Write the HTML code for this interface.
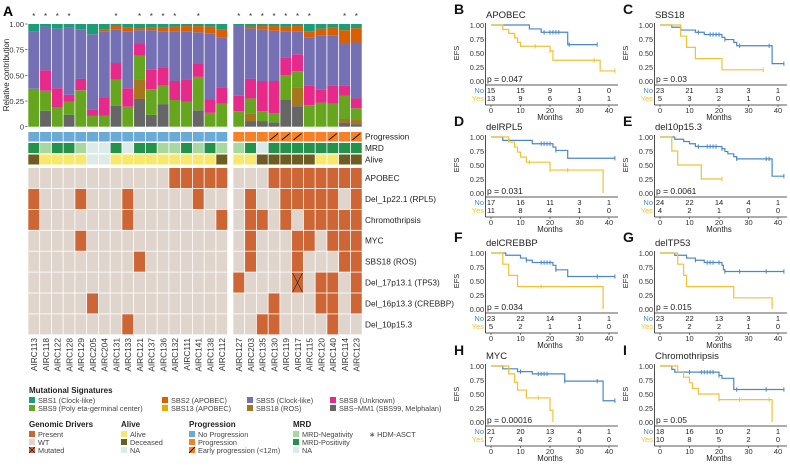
<!DOCTYPE html>
<html><head><meta charset="utf-8"><style>
html,body{margin:0;padding:0;background:#fff;}
svg{display:block;font-family:"Liberation Sans",sans-serif;}
</style></head><body>
<svg id="fig" width="790" height="469" viewBox="0 0 790 469" xmlns="http://www.w3.org/2000/svg"></svg>
<script>
// ---------- Panel A data ----------
const samplesL = ["AIRC113","AIRC118","AIRC122","AIRC128","AIRC129","AIRC205","AIRC204","AIRC131","AIRC133","AIRC121","AIRC137","AIRC136","AIRC132","AIRC111","AIRC141","AIRC138","AIRC112"];
const samplesR = ["AIRC127","AIRC203","AIRC135","AIRC130","AIRC119","AIRC117","AIRC115","AIRC120","AIRC140","AIRC114","AIRC123"];
const sigNames = ["SBS-MM1","SBS18","SBS9","SBS8","SBS5","SBS2","SBS1"];
const sigColors = ["#666666","#a6761d","#66a61e","#e7298a","#7570b3","#d95f02","#1b9e77"];
// cumulative tops (bottom to top) per sample: MM1, SBS18, SBS9, SBS8, SBS5, SBS2 ; SBS1 fills to 1
const cumL = [
 [0,0,.37,.37,.925,.925],[.155,.155,.35,.55,.975,.975],[0,0,.185,.375,.955,.955],[.115,.115,.245,.31,.965,.965],
 [0,0,.355,.465,.95,.95],[0,0,.105,.17,.9,.9],[0,0,.105,.285,.93,.95],[.205,.205,.46,.62,.95,.985],
 [0,0,.195,.375,.93,.965],[.27,.455,.69,.81,.94,.96],[.115,.115,.365,.56,.94,.965],[.22,.22,.4,.58,.925,.965],
 [0,0,.26,.445,.93,.975],[0,0,.245,.455,.93,.98],[.16,.16,.485,.615,.92,.98],[0,0,.135,.265,.91,.975],[0,0,.225,.385,.865,.945]];
const cumR = [
 [0,0,.15,.3,.985,.985],[.055,.13,.275,.465,.955,.975],[.055,.055,.15,.445,.95,.98],[.04,.04,.13,.445,.935,.98],
 [.26,.26,.5,.675,.925,.975],[.2,.385,.54,.705,.93,.98],[0,0,.21,.4,.87,.93],[0,0,.235,.365,.885,.955],
 [0,0,.225,.4,.885,.965],[.04,.075,.3,.4,.805,.94],[.025,.065,.18,.275,.82,.96]];
const starL = [1,1,1,1,0,0,0,1,0,1,1,1,1,0,1,0,0];
const starR = [1,1,1,1,1,1,1,0,0,1,1];
const progR = [1,1,1,2,2,2,1,1,2,1,2]; // 1 progression, 2 early
const mrdL = [2,1,2,2,1,0,0,2,0,2,2,1,1,2,1,2,1]; // 2 pos,1 neg,0 NA
const mrdR = [1,2,0,2,2,2,2,2,2,2,2];
const aliveL = [2,1,1,1,1,0,0,1,1,1,1,1,1,1,1,1,2]; // 1 alive 2 deceased 0 NA
const aliveR = [1,1,2,2,2,2,2,1,1,2,2];
const drivers = ["APOBEC","Del_1p22.1 (RPL5)","Chromothripsis","MYC","SBS18 (ROS)","Del_17p13.1 (TP53)","Del_16p13.3 (CREBBP)","Del_10p15.3"];
const drvL = [[13,14,15,16,17],[1,5,9,15],[1,9,17],[5],[10],[],[6],[9]];
const drvR = [[4,5,6,7,8,9,10,11],[2,5,6,7,8,9,11],[2,3,5,7,8,9,10,11],[2,6,7,9,10,11],[2,6,10,11],[1,6,8,9,11],[4,8,9,11],[3,4,9]];
const mutR = [[5,6]]; // row, col
const yTicks = ["0","0.25","0.50","0.75","1.00"];

// ---------- KM data ----------
const kmTitles = ["APOBEC","SBS18","delRPL5","del10p15.3","delCREBBP","delTP53","MYC","Chromothripsis"];
const kmLetters = ["B","C","D","E","F","G","H","I"];
const kmPvals = ["p = 0.047","p = 0.03","p = 0.031","p = 0.0061","p = 0.034","p = 0.015","p = 0.00016","p = 0.05"];
const noT = [[0,13,17,26],[0,4,7,12,15,21,22,25,26,38],[0,4,14,21,22,26],[0,5,8,10,12,21,22,23,25,26,38],[0,5,10,12,14,21,22,26],[0,5,9,12,15,21,21.5,22],[0,4,9,14,25,38],[0,4,5,20,21,25]];
const noS = [[1,.93,.87,.65],[1,.96,.91,.87,.83,.78,.74,.69,.63,.31],[1,.94,.88,.82,.76,.62],[1,.96,.92,.88,.83,.79,.74,.70,.65,.61,.30],[1,.96,.91,.87,.83,.78,.70,.58],[1,.96,.91,.87,.83,.78,.70,.67],[1,.95,.90,.86,.73,.38],[1,.94,.89,.83,.78,.58]];
const noEnd = [36,42,42,42,42,42,42,42];
const yesT = [[0,4,6,8,9,10,20,21,37],[0,7,9,12,21],[0,6,8,9,10,12,20,38],[0,4,6,14],[0,4,6,9,38],[0,6,8,9,25,38],[0,6,8,9,12,20,21],[0,6,8,10,11,13,20,38]];
const yesS = [[1,.92,.85,.77,.69,.62,.54,.37,.18],[1,.8,.6,.4,.2],[1,.91,.82,.73,.64,.55,.41,0],[1,.75,.5,.25],[1,.8,.6,.4,0],[1,.8,.6,.4,.2,0],[1,.86,.71,.57,.43,.21,0],[1,.9,.8,.7,.6,.5,.4,0]];
const yesEnd = [42,35,38,21,38,38,21,38];
const noCens = [[18,20,21,22,23,26.5,36],[13,17,18,19,20,22,27,37,42],[17,18,19,20,22,42],[13,16,17,18,19,21,26,36,37,42],[12,17,18,19,20,22,36,42],[12,16,17,18,20,22,27,36,42],[10,16,17,18,19,25,36,42],[10,14,15,16,17,18,20,26,36,42]];
const yesCens = [[15,20,35,42],[35],[13,20,26],[21],[17],[],[16],[20,27,37]];
const riskNo = [[15,15,9,1,0],[23,21,13,3,1],[17,16,11,3,1],[24,22,14,4,1],[23,22,14,3,1],[23,22,13,3,1],[21,20,13,4,1],[18,16,10,2,1]];
const riskYes = [[13,9,6,3,1],[5,3,2,1,0],[11,8,4,1,0],[4,2,1,0,0],[5,2,1,1,0],[5,2,2,1,0],[7,4,2,0,0],[10,8,5,2,0]];
const monthTicks = [0,10,20,30,40];
const efsTicks = ["0.00","0.25","0.50","0.75","1.00"];

const NS = "http://www.w3.org/2000/svg";
const svg = document.getElementById("fig");
function mk(tag, attrs, parent, text){
  const e = document.createElementNS(NS, tag);
  for (const k in attrs) e.setAttribute(k, attrs[k]);
  if (text !== undefined) e.textContent = text;
  (parent || svg).appendChild(e);
  return e;
}

// ---------- Panel A ----------
const gA = mk("g", {});


let t = mk("text", {x:3, y:16, "font-size":14, "font-weight":"bold"}, gA, "A");



const colW = 11.75;
function colX(group, i){ return group === 0 ? 28.3 + i*colW : 233.3 + i*colW; }
const yTop = 24, yBot = 126.7;
function yS(v){ return yBot - v*(yBot-yTop); }

// y axis
yTicks.forEach((lab,i)=>{
  const v = i*0.25;
  const tx = mk("text", {x:24, y:yS(v)+3, "font-size":7.5, "text-anchor":"end", fill:"#333"}, gA, lab);
  
  
  mk("line", {x1:25, x2:27.5, y1:yS(v), y2:yS(v), stroke:"#333", "stroke-width":0.6}, gA);
});
t = mk("text", {x:9, y:75, "font-size":8, "text-anchor":"middle", fill:"#222", transform:"rotate(-90 9 75)"}, gA, "Relative contribution");



const groups = [[samplesL,cumL,starL,null,mrdL,aliveL,drvL],[samplesR,cumR,starR,progR,mrdR,aliveR,drvR]];
const hmTop = 168, rowH = 20.9;
groups.forEach((G,g)=>{
  const [samples,cum,star,prog,mrd,alive,drv] = G;
  samples.forEach((s,i)=>{
    const x = colX(g,i);
    // stacked bar
    let prev = 0;
    const c = cum[i].concat([1]);
    c.forEach((v,k)=>{
      if (v - prev > 0.0001){
        const r = mk("rect", {x:x, y:yS(v), width:colW-0.8, height:yS(prev)-yS(v), fill:sigColors[k]}, gA);
        
        
      }
      prev = v;
    });
    if (star[i]){
      const st = mk("text", {x:x+colW/2-0.4, y:19, "font-size":8, "text-anchor":"middle", fill:"#333"}, gA, "*");
      
      
    }
    // progression
    const p = prog ? prog[i] : 0;
    const pr = mk("rect", {x:x, y:132, width:colW-0.8, height:9.5, fill: p ? "#f58025" : "#6aaad6"}, gA);
    
    
    if (p === 2){
      mk("line", {x1:x+1.5, y1:140, x2:x+colW-2.3, y2:133.5, stroke:"#111", "stroke-width":0.9}, gA);
    }
    const mr = mk("rect", {x:x, y:143, width:colW-0.8, height:10, fill: ["#dcebe9","#a7d8a0","#23924a"][mrd[i]]}, gA);
    
    
    const al = mk("rect", {x:x, y:154.5, width:colW-0.8, height:10, fill: ["#dcebe9","#f7e86c","#6e5c22"][alive[i]]}, gA);
    
    
    drivers.forEach((d,r)=>{
      const on = drv[r].indexOf(i+1) >= 0;
      const hc = mk("rect", {x:x, y:hmTop + r*rowH, width:colW-0.8, height:rowH-0.8, fill: on ? "#cd6634" : "#e0d5cd"}, gA);
      
      
      if (g===1 && mutR.some(m=>m[0]===r && m[1]===i+1)){
        mk("line", {x1:x+0.5,y1:hmTop+r*rowH+0.5,x2:x+colW-1.3,y2:hmTop+(r+1)*rowH-1.3,stroke:"#222","stroke-width":0.6}, gA);
        mk("line", {x1:x+colW-1.3,y1:hmTop+r*rowH+0.5,x2:x+0.5,y2:hmTop+(r+1)*rowH-1.3,stroke:"#222","stroke-width":0.6}, gA);
      }
    });
    const lx = x + colW/2 + 3;
    const sl = mk("text", {x:lx, y:338, "font-size":8.3, "text-anchor":"end", fill:"#333", transform:`rotate(-90 ${lx} 338)`}, gA, s);
    
    
  });
});
[["Progression",139.5],["MRD",151],["Alive",162.5]].forEach(([l,y])=>{
  const tx = mk("text", {x:365, y:y, "font-size":8.3, fill:"#222"}, gA, l);
  
  
});
drivers.forEach((d,r)=>{
  const tx = mk("text", {x:365, y:hmTop + r*rowH + rowH/2 + 2.5, "font-size":8.3, fill:"#222"}, gA, d);
  
  
});

// legend
const gL = mk("g", {}, gA);


function legTitle(x,y,s){ const e = mk("text",{x:x,y:y,"font-size":8,"font-weight":"bold",fill:"#222"},gL,s);
    }
function legEntry(x,y,col,s,extra){
  mk("rect",{x:x,y:y-6,width:6,height:6,fill:col},gL);
  if (extra==="x"){ mk("path",{d:`M${x} ${y-6}L${x+6} ${y}M${x+6} ${y-6}L${x} ${y}`,stroke:"#222","stroke-width":0.7},gL); }
  if (extra==="/"){ mk("line",{x1:x,y1:y,x2:x+6,y2:y-6,stroke:"#111","stroke-width":0.9},gL); }
  const e = mk("text",{x:x+9,y:y,"font-size":7.3,fill:"#444"},gL,s);
   
}
legTitle(29,393,"Mutational Signatures");
legEntry(29,403,"#1b9e77","SBS1 (Clock-like)");
legEntry(29,411,"#66a61e","SBS9 (Poly eta-germinal center)");
legEntry(162,403,"#d95f02","SBS2 (APOBEC)");
legEntry(162,411,"#e6ab02","SBS13 (APOBEC)");
legEntry(247,403,"#7570b3","SBS5 (Clock-like)");
legEntry(247,411,"#a6761d","SBS18 (ROS)");
legEntry(330,403,"#e7298a","SBS8 (Unknown)");
legEntry(330,411,"#666666","SBS\u2212MM1 (SBS99, Melphalan)");
legTitle(29,427,"Genomic Drivers");
legEntry(29,437,"#cd6634","Present");
legEntry(29,445,"#e0d5cd","WT");
legEntry(29,453,"#cd6634","Mutated","x");
legTitle(121,427,"Alive");
legEntry(121,437,"#f7e86c","Alive");
legEntry(121,445,"#6e5c22","Deceased");
legEntry(121,453,"#dcebe9","NA");
legTitle(189,427,"Progression");
legEntry(189,437,"#6aaad6","No Progression");
legEntry(189,445,"#f58025","Progression");
legEntry(189,453,"#f58025","Early progression (<12m)","/");
legTitle(293,427,"MRD");
legEntry(293,437,"#a7d8a0","MRD-Negativity");
legEntry(293,445,"#23924a","MRD-Positivity");
legEntry(293,453,"#dcebe9","NA");
t = mk("text",{x:369,y:437,"font-size":7.3,fill:"#444"},gL,"\u2217 HDM-ASCT");
 

// ---------- KM panels ----------
const panelPos = [[440,25],[609,25],[440,137],[609,137],[440,253],[609,253],[440,366],[609,366]];
const BLUE = "#4a88c9", YEL = "#f1c232";
kmTitles.forEach((title,p)=>{
  const [px, oy] = panelPos[p];
  const g = mk("g", {});
  
  
  const x0 = px + 51, pxPerM = 118/40, H = 56;
  const X = m => x0 + m*pxPerM;
  const Y = v => oy + H - v*H;
  let e = mk("text",{x:px+14,y:oy-11,"font-size":14,"font-weight":"bold",fill:"#111"},g,kmLetters[p]);
   
  e = mk("text",{x:px+46,y:oy-7,"font-size":9.5,fill:"#222"},g,title);
   
  // axes
  const axX = px + 45.5;
  mk("line",{x1:axX,y1:oy-2,x2:axX,y2:oy+80,stroke:"#222","stroke-width":0.8},g);
  mk("line",{x1:axX,y1:oy+60,x2:X(42)+3,y2:oy+60,stroke:"#222","stroke-width":0.8},g);
  mk("line",{x1:axX,y1:oy+80,x2:X(42)+3,y2:oy+80,stroke:"#222","stroke-width":0.8},g);
  efsTicks.forEach((lab,i)=>{
    const v = i*0.25;
    e = mk("text",{x:axX-1.5,y:Y(v)+3,"font-size":7.3,"text-anchor":"end",fill:"#333"},g,lab);
     
  });
  e = mk("text",{x:px+19,y:oy+28,"font-size":7.5,"text-anchor":"middle",fill:"#222",transform:`rotate(-90 ${px+19} ${oy+28})`},g,"EFS");
   
  // curves
  function curve(T,S,end,col,cens,name){
    let d = `M${X(T[0])} ${Y(S[0])}`;
    for (let i=1;i<T.length;i++){ d += `H${X(T[i])}V${Y(S[i])}`; }
    d += `H${X(end)}`;
    const c = mk("path",{d:d,fill:"none",stroke:col,"stroke-width":1.2},g);
    
    
    cens.forEach(ct=>{
      let s = S[0];
      for (let i=0;i<T.length;i++) if (T[i] <= ct) s = S[i];
      mk("line",{x1:X(ct),x2:X(ct),y1:Y(s)-2.2,y2:Y(s)+2.2,stroke:col,"stroke-width":1},g);
    });
  }
  curve(noT[p],noS[p],noEnd[p],BLUE,noCens[p],'curve-no');
  curve(yesT[p],yesS[p],yesEnd[p],YEL,yesCens[p],'curve-yes');
  e = mk("text",{x:X(0)-4,y:oy+57,"font-size":8.5,fill:"#222"},g,kmPvals[p]);
   
  // risk table
  e = mk("text",{x:axX-1.5,y:oy+68,"font-size":7.5,"text-anchor":"end",fill:BLUE},g,"No");
   
  e = mk("text",{x:axX-1.5,y:oy+76,"font-size":7.5,"text-anchor":"end",fill:YEL},g,"Yes");
   
  monthTicks.forEach((m,i)=>{
    e = mk("text",{x:X(m),y:oy+68,"font-size":7.5,"text-anchor":"middle",fill:"#222"},g,String(riskNo[p][i]));
     
    e = mk("text",{x:X(m),y:oy+76,"font-size":7.5,"text-anchor":"middle",fill:"#222"},g,String(riskYes[p][i]));
     
    mk("line",{x1:X(m),x2:X(m),y1:oy+80,y2:oy+82,stroke:"#222","stroke-width":0.6},g);
    e = mk("text",{x:X(m),y:oy+88,"font-size":7.5,"text-anchor":"middle",fill:"#333"},g,String(m));
     
  });
  e = mk("text",{x:X(20),y:oy+95,"font-size":7.8,"text-anchor":"middle",fill:"#222"},g,"Months");
   
});
</script>
</body></html>
